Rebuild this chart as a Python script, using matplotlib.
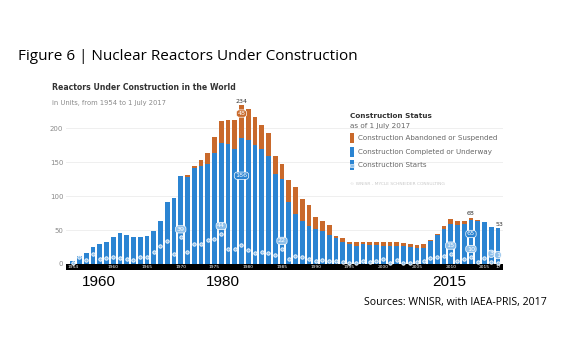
import matplotlib
matplotlib.use("Agg")
import matplotlib.pyplot as plt
from matplotlib.patches import Rectangle
import numpy as np

years = np.arange(1954, 2018)

# reactors under construction per year (total, incl. later abandoned)
total = [4, 12, 16, 25, 30, 32, 39, 45, 43, 39, 40, 41, 49, 63, 92, 97,
         130, 131, 144, 153, 164, 187, 211, 213, 213, 234, 229, 217, 205, 193,
         159, 147, 124, 113, 96, 87, 69, 64, 58, 41, 38, 33, 32, 33, 32, 32,
         33, 32, 32, 31, 29, 28, 29, 36, 44, 56, 66, 63, 64, 68, 65, 62, 55, 53]

# of which completed or still underway
completed = [4, 12, 16, 25, 30, 32, 39, 45, 43, 39, 40, 41, 49, 63, 92, 97,
             130, 129, 141, 145, 148, 164, 178, 177, 169, 186, 183, 176, 169, 159,
             133, 125, 91, 73, 63, 56, 51, 48, 43, 38, 33, 29, 27, 29, 28, 28,
             27, 26, 26, 26, 25, 23, 24, 34, 43, 51, 59, 57, 59, 65, 64, 62, 55, 53]

# construction starts per year
starts = [2, 10, 6, 14, 7, 8, 10, 8, 7, 6, 10, 10, 17, 26, 34, 15,
          39, 17, 29, 29, 36, 37, 44, 22, 22, 28, 20, 16, 17, 16,
          13, 22, 7, 11, 10, 7, 5, 6, 4, 5, 3, 2, 1, 5, 3, 4,
          7, 1, 6, 1, 2, 3, 4, 8, 10, 12, 15, 4, 7, 10, 3, 8, 3, 1]

strip_labels = {1954: "1954", 1960: "1960", 1965: "1965", 1970: "1970", 1975: "1975",
                1980: "1980", 1985: "1985", 1990: "1990", 1995: "1995", 2000: "2000",
                2005: "2005", 2010: "2010", 2015: "2015", 2017: "17"}

BLUE = "#2b84d2"
ORANGE = "#c9692b"
LIGHT = "#8dbfea"
GRAY = "#8a8a8a"

total = np.array(total)
completed = np.array(completed)
starts = np.array(starts)
abandoned = total - completed

fig = plt.figure(figsize=(5.62, 3.42), dpi=100)
ax = fig.add_axes([66 / 562, 1 - 270 / 342, 437 / 562, 170 / 342])

ax.bar(years, completed, width=0.7, color=BLUE, zorder=2)
ax.bar(years, abandoned, bottom=completed, width=0.7, color=ORANGE, zorder=2)
ax.scatter(years, starts, s=6, facecolor=LIGHT, edgecolor="white", linewidth=0.6, zorder=3)

ax.set_xlim(1953, 2017.75)
ax.set_ylim(-9, 242)
ax.axhspan(-9, 0, color="black", zorder=2, lw=0)
for yr, lab in strip_labels.items():
    ax.text(yr, -4.5, lab, color="white", fontsize=3.2, ha="center", va="center", zorder=4)

ax.set_yticks([0, 50, 100, 150, 200])
ax.tick_params(axis="y", length=0, labelsize=5, labelcolor=GRAY, pad=2)
ax.tick_params(axis="x", length=0, labelbottom=False)
ax.yaxis.grid(True, color="#ececec", linewidth=0.6)
ax.set_axisbelow(True)
for s in ax.spines.values():
    s.set_visible(False)


def bubble(x, y, txt, fc):
    ax.text(x, y, txt, fontsize=4.6, color="white", ha="center", va="center", zorder=5,
            bbox=dict(boxstyle="round,pad=0.18,rounding_size=0.45", fc=fc, ec="white", lw=0.5))


i = list(years)
# starts call-outs sit just above their dot
for yr in (1970, 1976, 1985, 2010, 2013, 2016, 2017):
    k = i.index(yr)
    bubble(yr, starts[k] + 12, str(starts[k]), LIGHT)
k = i.index(1979)
bubble(1979, completed[k] * 0.7, str(completed[k]), BLUE)
bubble(1979, completed[k] + abandoned[k] * 0.75, str(abandoned[k]), ORANGE)
k = i.index(2013)
bubble(2013, completed[k] * 0.68, str(completed[k]), BLUE)

for yr in (1979, 2013, 2017):
    k = i.index(yr)
    ax.text(yr + (0.3 if yr == 2017 else 0), total[k] + 2, str(total[k]), fontsize=4.5,
            color="#333333", ha="center", va="bottom", zorder=5, clip_on=False)

# headings
fig.text(18 / 562, 1 - 57 / 342, "Figure 6 | Nuclear Reactors Under Construction",
         fontsize=11, family="Open Sans", color="black", va="center")
fig.text(52 / 562, 1 - 88 / 342, "Reactors Under Construction in the World",
         fontsize=5.6, fontweight="bold", color="#333333", va="center")
fig.text(52 / 562, 1 - 103 / 342, "in Units, from 1954 to 1 July 2017",
         fontsize=4.9, color=GRAY, va="center")

# legend
fig.text(350 / 562, 1 - 116 / 342, "Construction Status", fontsize=5.2,
         fontweight="bold", color="#333333", va="center")
fig.text(350 / 562, 1 - 126 / 342, "as of 1 July 2017", fontsize=5.2, color="#666666", va="center")
items = [(138, ORANGE, "Construction Abandoned or Suspended"),
         (152, BLUE, "Construction Completed or Underway"),
         (165, BLUE, "Construction Starts")]
for yc, col, lab in items:
    fig.patches.append(Rectangle((349.5 / 562, 1 - (yc + 5) / 342), 4.5 / 562, 10 / 342,
                                 transform=fig.transFigure, fc=col, ec="none"))
    fig.text(358 / 562, 1 - yc / 342, lab, fontsize=5.1, color="#666666", va="center")
fig.patches.append(Rectangle((350 / 562, 1 - 166.5 / 342), 3.5 / 562, 3 / 342,
                             transform=fig.transFigure, fc=LIGHT, ec="white", lw=0.4))
fig.text(350 / 562, 1 - 184 / 342, "© WNISR - MYCLE SCHNEIDER CONSULTING", fontsize=3.2,
         color="#c8c8c8", va="center")

# decade markers below the chart
for x, lab in ((99, "1960"), (223, "1980"), (449, "2015")):
    fig.text(x / 562, 1 - 282 / 342, lab, fontsize=11, family="Liberation Sans",
             ha="center", va="center")

fig.text(547 / 562, 1 - 303 / 342, "Sources: WNISR, with IAEA-PRIS, 2017", fontsize=7.6,
         family="Open Sans", ha="right", va="center")

fig.savefig("out.png", dpi=100)
